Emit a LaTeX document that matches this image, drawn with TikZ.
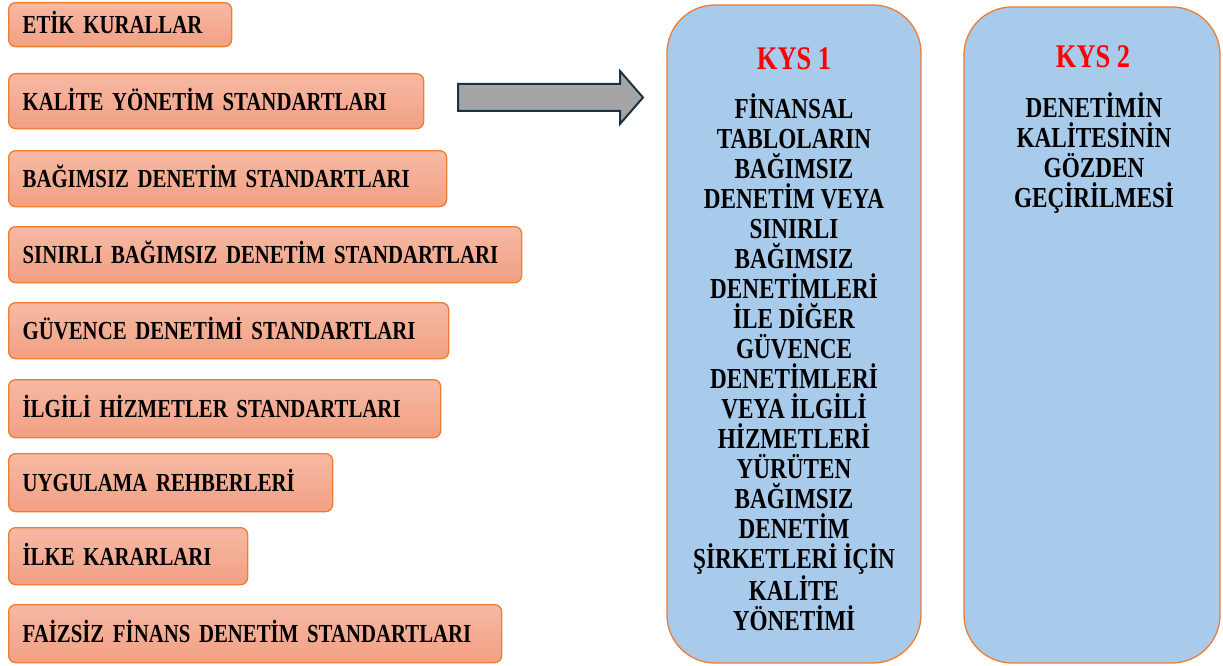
\documentclass[tikz,border=0pt]{standalone}
\usepackage{fontspec}
\setmainfont{Liberation Serif}[FakeStretch=0.8]
\definecolor{boxorange}{HTML}{ED7D31}
\definecolor{salmontop}{HTML}{F6B9A4}
\definecolor{salmonbot}{HTML}{F2A083}
\definecolor{kysblue}{HTML}{A8CAEB}
\definecolor{arrowgray}{HTML}{A5A5A5}
\definecolor{arrowedge}{HTML}{1C3344}
\definecolor{kysred}{HTML}{FF0000}
\tikzset{
  lbox/.style={draw=boxorange, line width=1.3pt, rounded corners=7pt,
    top color=salmontop, bottom color=salmonbot,
    anchor=north west, inner xsep=14pt, inner ysep=0pt,
    text height=18pt, text depth=0pt, align=left,
    font=\fontsize{26}{28}\selectfont\bfseries},
  kysbox/.style={draw=boxorange, line width=1.3pt, fill=kysblue, rounded corners=48pt},
  kystitle/.style={text=kysred, anchor=base, inner sep=0pt, font=\fontsize{33}{36}\selectfont\bfseries},
  kysbody/.style={anchor=base, align=center, inner sep=0pt,
    font=\fontsize{29}{30}\selectfont\bfseries}
}
\begin{document}
\begin{tikzpicture}[x=1pt,y=-1pt]
\useasboundingbox (0,0) rectangle (1223,666);
% left boxes
\node[lbox, text width=195pt, minimum height=44pt] (b1) at (8,2) {ETİK KURALLAR};
\node[lbox, text width=387pt, minimum height=55pt] (b2) at (8,73) {KALİTE YÖNETİM STANDARTLARI};
\node[lbox, text width=410pt, minimum height=56pt] (b3) at (8,150) {BAĞIMSIZ DENETİM STANDARTLARI};
\node[lbox, text width=485pt, minimum height=56pt] (b4) at (8,226) {SINIRLI BAĞIMSIZ DENETİM STANDARTLARI};
\node[lbox, text width=412pt, minimum height=56pt] (b5) at (8,302) {GÜVENCE DENETİMİ STANDARTLARI};
\node[lbox, text width=404pt, minimum height=58pt] (b6) at (8,379) {İLGİLİ HİZMETLER STANDARTLARI};
\node[lbox, text width=296pt, minimum height=58pt] (b7) at (8,453) {UYGULAMA REHBERLERİ};
\node[lbox, text width=211pt, minimum height=57pt] (b8) at (8,527) {İLKE KARARLARI};
\node[lbox, text width=465pt, minimum height=58pt] (b9) at (8,604) {FAİZSİZ FİNANS DENETİM STANDARTLARI};
% block arrow
\draw[fill=arrowgray, draw=arrowedge, line width=2pt, line join=miter]
  (458,84) -- (620,84) -- (620,71) -- (643,97.5) -- (620,124) -- (620,111) -- (458,111) -- cycle;
% KYS boxes
\draw[kysbox] (667,5) rectangle (921,663);
\draw[kysbox] (964,7) rectangle (1220,663);
\node[kystitle] (t1) at (794,70) {KYS 1};
\node[kystitle] (t2) at (1093,68) {KYS 2};
\node[kysbody] (k1) at (794,630) {FİNANSAL\\TABLOLARIN\\BAĞIMSIZ\\DENETİM VEYA\\SINIRLI\\BAĞIMSIZ\\DENETİMLERİ\\İLE DİĞER\\GÜVENCE\\DENETİMLERİ\\VEYA İLGİLİ\\HİZMETLERİ\\YÜRÜTEN\\BAĞIMSIZ\\DENETİM\\ŞİRKETLERİ İÇİN\\KALİTE\\YÖNETİMİ};
\node[kysbody] (k2) at (1094,207) {DENETİMİN\\KALİTESİNİN\\GÖZDEN\\GEÇİRİLMESİ};
\end{tikzpicture}
\end{document}
